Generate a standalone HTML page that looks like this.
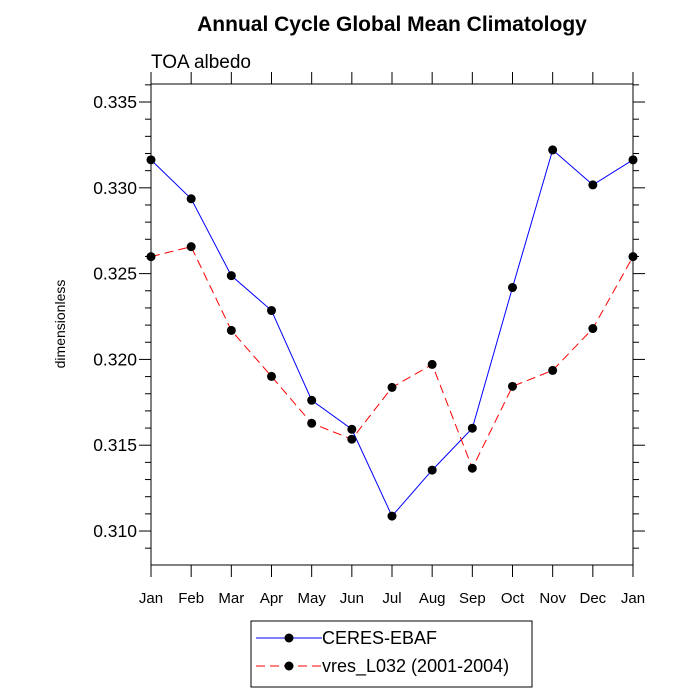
<!DOCTYPE html>
<html><head><meta charset="utf-8"><style>
body{margin:0;background:#fff}
svg{display:block;font-family:"Liberation Sans",sans-serif}
</style></head><body>
<svg id="c" width="700" height="700">
<text x="392" y="31" text-anchor="middle" font-size="21" font-weight="bold">Annual Cycle Global Mean Climatology</text>
<text x="151" y="68" font-size="19">TOA albedo</text>
<text transform="translate(65,324) rotate(-90)" text-anchor="middle" font-size="14">dimensionless</text>
<g id="axes"></g><g id="series"></g>
<g>
<rect x="251" y="621" width="281" height="66" fill="#fff" stroke="#000" stroke-width="1"/>
<line x1="256" y1="638" x2="322" y2="638" stroke="#00f" stroke-width="1"/>
<circle cx="289" cy="638" r="4.5" fill="#000"/>
<text x="322" y="644" font-size="18">CERES-EBAF</text>
<line x1="256" y1="666" x2="322" y2="666" stroke="#f00" stroke-width="1" stroke-dasharray="9,5"/>
<circle cx="289" cy="666" r="4.5" fill="#000"/>
<text x="322" y="672" font-size="18">vres_L032 (2001-2004)</text>
</g>
</svg>
<script>
const months=["Jan","Feb","Mar","Apr","May","Jun","Jul","Aug","Sep","Oct","Nov","Dec","Jan"];
const ceres=[0.33163,0.32936,0.32488,0.32285,0.31762,0.31593,0.31087,0.31355,0.31599,0.32419,0.33221,0.33017,0.33163];
const model=[0.32599,0.32657,0.32169,0.31901,0.31628,0.31535,0.31837,0.31971,0.31366,0.31843,0.31936,0.3218,0.32599];
const yTicks=["0.310","0.315","0.320","0.325","0.330","0.335"];
const L=151,R=633,T=84,B=565,ymin=0.30802,ymax=0.33605;
const xs=i=>L+(R-L)*i/12, ys=v=>B-(v-ymin)/(ymax-ymin)*(B-T);
const NS="http://www.w3.org/2000/svg";
function mk(p,t,a){const e=document.createElementNS(NS,t);for(const k in a)e.setAttribute(k,a[k]);p.appendChild(e);return e;}
const ax=document.getElementById('axes');
const fr=mk(ax,'rect',{x:L,y:T,width:R-L,height:B-T,fill:'none',stroke:'#000','stroke-width':1});


months.forEach((m,i)=>{const x=xs(i);
mk(ax,'line',{x1:x,y1:B,x2:x,y2:B+12,stroke:'#000'});
mk(ax,'line',{x1:x,y1:T,x2:x,y2:T-12,stroke:'#000'});
const t=mk(ax,'text',{x:x,y:B+38,'text-anchor':'middle','font-size':15});t.textContent=m;

});
for(let k=309;k<=336;k++){const v=k/1000,y=ys(v),maj=k%5===0,len=maj?12:6;
mk(ax,'line',{x1:L,y1:y,x2:L-len,y2:y,stroke:'#000'});
mk(ax,'line',{x1:R,y1:y,x2:R+len,y2:y,stroke:'#000'});}
yTicks.forEach(s=>{const t=mk(ax,'text',{x:L-14,y:ys(parseFloat(s))+6,'text-anchor':'end','font-size':17.5});t.textContent=s;

});
const sg=document.getElementById('series');
function series(d,col,dash,name){
const pl=mk(sg,'polyline',{points:d.map((v,i)=>xs(i)+','+ys(v)).join(' '),fill:'none',stroke:col,'stroke-width':1,'stroke-dasharray':dash});


d.forEach((v,i)=>{const c=mk(sg,'circle',{cx:xs(i),cy:ys(v),r:4.5,fill:'#000'});

});}
series(ceres,'#00f','none','ceres');
series(model,'#f00','9,5','model');
</script>
</body></html>
